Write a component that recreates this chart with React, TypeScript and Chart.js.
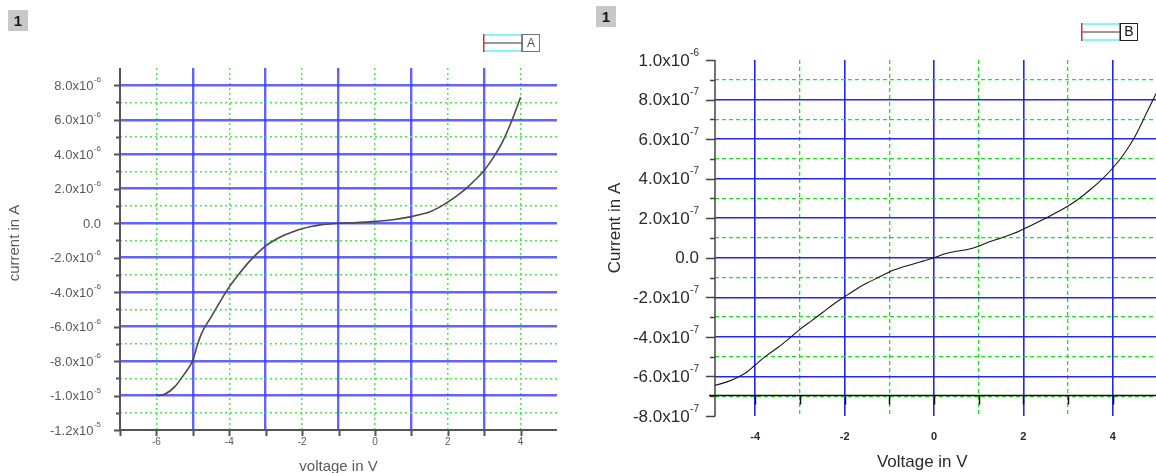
import React, { useEffect, useRef } from "react";
import { Chart, registerables } from "chart.js";

Chart.register(...registerables);
Chart.defaults.font.family = "'Liberation Sans', Arial, sans-serif";

// ---------- Sample A : I–V sweep ----------
const labelA = "A";
const voltageA = [-6, -5.9, -5.75, -5.5, -5.25, -5, -4.88, -4.75, -4.5, -4.25, -4, -3.75, -3.5, -3.25, -3, -2.75, -2.5, -2.25, -2, -1.75, -1.5, -1.25, -1, -0.5, 0, 0.5, 1, 1.25, 1.5, 1.75, 2, 2.25, 2.5, 2.75, 3, 3.25, 3.5, 3.75, 4];
const currentA = [-10.0e-6, -9.98e-6, -9.9e-6, -9.5e-6, -8.8e-6, -7.95e-6, -7.1e-6, -6.35e-6, -5.45e-6, -4.55e-6, -3.7e-6, -3.0e-6, -2.35e-6, -1.8e-6, -1.32e-6, -0.98e-6, -0.7e-6, -0.5e-6, -0.33e-6, -0.2e-6, -0.1e-6, -0.05e-6, -0.01e-6, 0.03e-6, 0.1e-6, 0.2e-6, 0.38e-6, 0.5e-6, 0.65e-6, 0.9e-6, 1.22e-6, 1.58e-6, 2.0e-6, 2.5e-6, 3.06e-6, 3.8e-6, 4.7e-6, 5.9e-6, 7.3e-6];
const xRangeA = [-7, 5];
const yRangeA = [-12e-6, 9e-6];
const xLabelTicksA = [-6, -4, -2, 0, 2, 4]; // dotted green verticals
const xSolidGridA = [-5, -3, -1, 1, 3]; // solid blue verticals
const yLabelTicksA = [-12e-6, -10e-6, -8e-6, -6e-6, -4e-6, -2e-6, 0, 2e-6, 4e-6, 6e-6, 8e-6]; // solid blue
const yDottedGridA = [-11e-6, -9e-6, -7e-6, -5e-6, -3e-6, -1e-6, 1e-6, 3e-6, 5e-6, 7e-6]; // dotted green

// ---------- Sample B : I–V sweep ----------
const labelB = "B";
const voltageB = [-4.9, -4.6, -4.4, -4.2, -4, -3.75, -3.5, -3.25, -3, -2.75, -2.5, -2.25, -2, -1.75, -1.5, -1.25, -1, -0.9, -0.75, -0.5, -0.25, 0, 0.25, 0.5, 0.75, 1, 1.25, 1.5, 1.75, 2, 2.25, 2.5, 2.75, 3, 3.25, 3.5, 3.75, 4, 4.25, 4.5, 4.75, 5];
const currentB = [-6.45e-7, -6.25e-7, -6.05e-7, -5.8e-7, -5.42e-7, -4.95e-7, -4.55e-7, -4.1e-7, -3.62e-7, -3.2e-7, -2.78e-7, -2.35e-7, -1.97e-7, -1.6e-7, -1.28e-7, -1.0e-7, -0.72e-7, -0.62e-7, -0.5e-7, -0.34e-7, -0.17e-7, 0, 0.2e-7, 0.33e-7, 0.42e-7, 0.58e-7, 0.82e-7, 1.0e-7, 1.2e-7, 1.45e-7, 1.72e-7, 2.0e-7, 2.3e-7, 2.62e-7, 3.0e-7, 3.45e-7, 3.95e-7, 4.54e-7, 5.25e-7, 6.15e-7, 7.3e-7, 8.45e-7];
const xRangeB = [-4.9, 5];
const yRangeB = [-8e-7, 1e-6];
const xLabelTicksB = [-4, -2, 0, 2, 4]; // solid blue verticals
const xDashedGridB = [-3, -1, 1, 3]; // dashed green verticals
const yLabelTicksB = [-8e-7, -6e-7, -4e-7, -2e-7, 0, 2e-7, 4e-7, 6e-7, 8e-7, 1e-6]; // solid blue
const yDashedGridB = [-7e-7, -5e-7, -3e-7, -1e-7, 1e-7, 3e-7, 5e-7, 7e-7, 9e-7]; // dashed green
const xAxisLevelB = -7e-7; // current value where the voltage axis line crosses

type Style = {
  axisColor: string;
  axisWidth: number;
  majorTick: number;
  minorTick: number;
  textColor: string;
  mantFont: string;
  expFont: string;
  expRaise: number;
  labelGap: number;
  xLabelFont: string;
  xLabelOffset: number;
  titleFont: string;
  xTitle: string;
  yTitle: string;
  xTitleOffset: number;
  xTitleShift: number;
  yTitleX: number;
  yTitleShift: number;
  legendX: number;
  legendY: number;
  legendBox: string;
  legendFont: string;
  legendText: string;
};

function sciParts(v: number): [string, string] {
  if (v === 0) return ["0.0", ""];
  const e = Math.floor(Math.log10(Math.abs(v)) + 1e-6);
  const m = v / Math.pow(10, e);
  return [`${m.toFixed(1)}x10`, String(e)];
}

function gridScale(axis: "x" | "y", range: number[], values: number[], color: string, width: number, dash: number[], size: number) {
  const [min, max] = range;
  const inner = values.filter((v) => v > min + 1e-15 && v < max - 1e-15);
  return {
    type: "linear",
    axis,
    position: axis === "x" ? "bottom" : "left",
    min,
    max,
    display: true,
    ticks: { display: false },
    border: { display: false, dash },
    grid: { color, lineWidth: width, drawTicks: false, drawOnChartArea: true },
    afterBuildTicks: (s: any) => {
      s.ticks = inner.map((v) => ({ value: v }));
    },
    afterFit: (s: any) => {
      if (axis === "x") s.height = size;
      else s.width = size;
    },
  };
}

function drawLegendKey(ctx: CanvasRenderingContext2D, x: number, y: number, text: string, st: Style) {
  const w = 39;
  const h = 18;
  ctx.save();
  ctx.lineWidth = 1.5;
  ctx.strokeStyle = "#5cf6f6";
  ctx.beginPath();
  ctx.moveTo(x, y + 1);
  ctx.lineTo(x + w, y + 1);
  ctx.moveTo(x, y + h - 1);
  ctx.lineTo(x + w, y + h - 1);
  ctx.stroke();
  ctx.strokeStyle = "#333";
  ctx.lineWidth = 1.2;
  ctx.beginPath();
  ctx.moveTo(x, y + h / 2);
  ctx.lineTo(x + w, y + h / 2);
  ctx.stroke();
  ctx.strokeStyle = "#e62a2a";
  ctx.lineWidth = 1.5;
  ctx.beginPath();
  ctx.moveTo(x + 0.75, y);
  ctx.lineTo(x + 0.75, y + h);
  ctx.moveTo(x + w, y);
  ctx.lineTo(x + w, y + h);
  ctx.stroke();
  ctx.strokeStyle = st.legendBox;
  ctx.lineWidth = 1;
  ctx.strokeRect(x + w + 0.5, y + 0.5, 17, h - 1);
  ctx.fillStyle = st.legendText;
  ctx.font = st.legendFont;
  ctx.textAlign = "center";
  ctx.textBaseline = "middle";
  ctx.fillText(text, x + w + 9, y + h / 2 + 0.5);
  ctx.restore();
}

function decor(st: Style, yLabels: number[], yMinor: number[], xLabels: number[], xMarks: number[], label: string, axisLevel?: number) {
  return {
    id: "panelDecor",
    beforeDatasetsDraw(chart: any) {
      const { ctx, chartArea: a, scales } = chart;
      const x = scales.x;
      const y = scales.y;
      ctx.save();
      ctx.strokeStyle = st.axisColor;
      ctx.lineWidth = st.axisWidth;
      // current axis with ticks to the left
      ctx.beginPath();
      ctx.moveTo(a.left, a.top);
      ctx.lineTo(a.left, a.bottom + (axisLevel === undefined ? st.axisWidth / 2 : 0.5));
      yLabels.forEach((v) => {
        const py = Math.round(y.getPixelForValue(v)) + 0.5;
        ctx.moveTo(a.left - st.majorTick, py);
        ctx.lineTo(a.left, py);
      });
      yMinor.forEach((v) => {
        const py = Math.round(y.getPixelForValue(v)) + 0.5;
        ctx.moveTo(a.left - st.minorTick, py);
        ctx.lineTo(a.left, py);
      });
      ctx.stroke();
      // voltage axis line with ticks below
      const base = axisLevel === undefined ? a.bottom : Math.round(y.getPixelForValue(axisLevel)) - 0.5;
      ctx.strokeStyle = axisLevel === undefined ? st.axisColor : "#111";
      ctx.beginPath();
      ctx.moveTo(a.left - (axisLevel === undefined ? 0 : 6), base);
      ctx.lineTo(a.right, base);
      xMarks.forEach((v) => {
        const px = Math.round(x.getPixelForValue(v)) + 0.5;
        ctx.moveTo(px, base);
        ctx.lineTo(px, base + st.majorTick);
      });
      ctx.stroke();
      ctx.restore();
    },
    afterDraw(chart: any) {
      const { ctx, chartArea: a, scales } = chart;
      const x = scales.x;
      const y = scales.y;
      ctx.save();
      ctx.fillStyle = st.textColor;
      // current tick labels with raised exponent
      ctx.textAlign = "right";
      ctx.textBaseline = "middle";
      yLabels.forEach((v) => {
        const [mant, exp] = sciParts(v);
        const py = y.getPixelForValue(v);
        let right = a.left - st.labelGap;
        if (exp) {
          ctx.font = st.expFont;
          ctx.fillText(exp, right, py - st.expRaise);
          right -= ctx.measureText(exp).width + 0.5;
        }
        ctx.font = st.mantFont;
        ctx.fillText(mant, right, py + 1);
      });
      // voltage tick labels
      ctx.textAlign = "center";
      ctx.font = st.xLabelFont;
      xLabels.forEach((v) => {
        ctx.fillText(String(v), x.getPixelForValue(v), a.bottom + st.xLabelOffset);
      });
      // axis titles
      ctx.font = st.titleFont;
      ctx.fillText(st.xTitle, (a.left + a.right) / 2 + st.xTitleShift, a.bottom + st.xTitleOffset);
      ctx.save();
      ctx.translate(st.yTitleX, (a.top + a.bottom) / 2 + st.yTitleShift);
      ctx.rotate(-Math.PI / 2);
      ctx.fillText(st.yTitle, 0, 0);
      ctx.restore();
      ctx.restore();
      drawLegendKey(ctx, st.legendX, st.legendY, label, st);
    },
  };
}

const styleA: Style = {
  axisColor: "#555",
  axisWidth: 2,
  majorTick: 6,
  minorTick: 4,
  textColor: "#5a5a5a",
  mantFont: "13px 'Liberation Sans', Arial, sans-serif",
  expFont: "8px 'Liberation Sans', Arial, sans-serif",
  expRaise: 5,
  labelGap: 19,
  xLabelFont: "10px 'Liberation Sans', Arial, sans-serif",
  xLabelOffset: 12,
  titleFont: "15px 'Liberation Sans', Arial, sans-serif",
  xTitle: "voltage in V",
  yTitle: "current in A",
  xTitleOffset: 37,
  xTitleShift: 0,
  yTitleX: 15,
  yTitleShift: -6,
  legendX: 483,
  legendY: 34,
  legendBox: "#777",
  legendFont: "12px 'Liberation Sans', Arial, sans-serif",
  legendText: "#555",
};

const styleB: Style = {
  axisColor: "#444",
  axisWidth: 1.5,
  majorTick: 9,
  minorTick: 5,
  textColor: "#2a2a2a",
  mantFont: "17px 'Liberation Sans', Arial, sans-serif",
  expFont: "10px 'Liberation Sans', Arial, sans-serif",
  expRaise: 7,
  labelGap: 16,
  xLabelFont: "bold 11px 'Liberation Sans', Arial, sans-serif",
  xLabelOffset: 21,
  titleFont: "17px 'Liberation Sans', Arial, sans-serif",
  xTitle: "Voltage in V",
  yTitle: "Current in A",
  xTitleOffset: 46,
  xTitleShift: -14,
  yTitleX: 30,
  yTitleShift: -10,
  legendX: 496,
  legendY: 23,
  legendBox: "#222",
  legendFont: "14px 'Liberation Sans', Arial, sans-serif",
  legendText: "#111",
};

function configA(): any {
  return {
    type: "line",
    data: {
      datasets: [
        {
          label: labelA,
          data: voltageA.map((v, i) => ({ x: v, y: currentA[i] })),
          borderColor: "#4a4a4a",
          borderWidth: 1.6,
          pointRadius: 0,
          cubicInterpolationMode: "monotone",
          xAxisID: "x",
          yAxisID: "y",
        },
      ],
    },
    options: {
      responsive: false,
      animation: false,
      layout: { padding: { left: 0, right: 23, top: 68, bottom: 0 } },
      plugins: { legend: { display: false }, tooltip: { enabled: false } },
      scales: {
        x: gridScale("x", xRangeA, xLabelTicksA, "#4be84b", 1.5, [2, 3], 60),
        x2: gridScale("x", xRangeA, xSolidGridA, "rgba(60,60,255,0.8)", 2.4, [], 0),
        y: gridScale("y", yRangeA, yLabelTicksA, "rgba(60,60,255,0.8)", 2.4, [], 120),
        y2: gridScale("y", yRangeA, yDottedGridA, "#4be84b", 1.5, [2, 3], 0),
      },
    },
    plugins: [decor(styleA, yLabelTicksA, yDottedGridA, xLabelTicksA, [...xLabelTicksA, ...xSolidGridA, xRangeA[0]], labelA)],
  };
}

function configB(): any {
  return {
    type: "line",
    data: {
      datasets: [
        {
          label: labelB,
          data: voltageB.map((v, i) => ({ x: v, y: currentB[i] })),
          borderColor: "#161616",
          borderWidth: 1.1,
          pointRadius: 0,
          cubicInterpolationMode: "monotone",
          xAxisID: "x",
          yAxisID: "y",
        },
      ],
    },
    options: {
      responsive: false,
      animation: false,
      layout: { padding: { left: 0, right: 1.5, top: 60, bottom: 0 } },
      plugins: { legend: { display: false }, tooltip: { enabled: false } },
      scales: {
        x: gridScale("x", xRangeB, xLabelTicksB, "#2424f5", 1.6, [], 74),
        x2: gridScale("x", xRangeB, xDashedGridB, "#19e619", 1.3, [4, 3], 0),
        y: gridScale("y", yRangeB, yLabelTicksB, "#2424f5", 1.6, [], 130),
        y2: gridScale("y", yRangeB, yDashedGridB, "#19e619", 1.3, [4, 3], 0),
      },
    },
    plugins: [decor(styleB, yLabelTicksB, yDashedGridB, xLabelTicksB, [...xLabelTicksB, ...xDashedGridB], labelB, xAxisLevelB)],
  };
}

const badge = (left: number, top: number, blur: boolean): React.CSSProperties => ({
  position: "absolute",
  left,
  top,
  width: 20,
  height: 21,
  background: "#c8c8c8",
  color: "#1a1a1a",
  font: "bold 15px 'Liberation Sans', Arial, sans-serif",
  lineHeight: "21px",
  textAlign: "center",
  filter: blur ? "blur(0.7px)" : "none",
});

export default function App() {
  const leftRef = useRef<HTMLCanvasElement>(null);
  const rightRef = useRef<HTMLCanvasElement>(null);

  useEffect(() => {
    const a = new Chart(leftRef.current as HTMLCanvasElement, configA());
    const b = new Chart(rightRef.current as HTMLCanvasElement, configB());
    return () => {
      a.destroy();
      b.destroy();
    };
  }, []);

  return (
    <div
      style={{
        position: "fixed",
        left: 0,
        top: 0,
        width: 1156,
        height: 473,
        overflow: "hidden",
        background: "#fff",
      }}
    >
      <div style={{ position: "absolute", left: 0, top: 0, width: 580, height: 490, filter: "blur(0.75px)" }}>
        <canvas ref={leftRef} width={580} height={490} style={{ display: "block" }} />
      </div>
      <div style={{ position: "absolute", left: 585, top: 0, width: 574, height: 490 }}>
        <canvas ref={rightRef} width={574} height={490} style={{ display: "block" }} />
      </div>
      <div style={badge(8, 10, true)}>1</div>
      <div style={badge(596, 6, false)}>1</div>
    </div>
  );
}
